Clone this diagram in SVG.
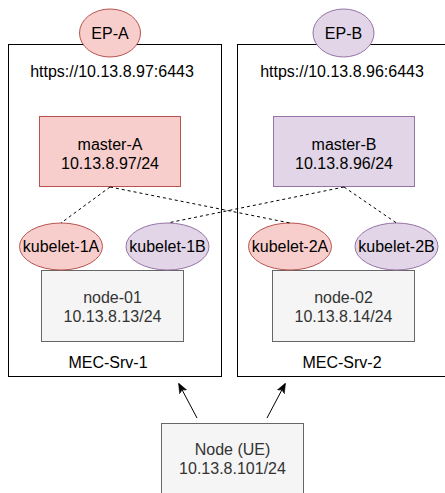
<svg xmlns="http://www.w3.org/2000/svg" width="445" height="493" viewBox="0 0 445 493">
<defs>
<style>
text{font-family:"Liberation Sans",Arial,Helvetica,sans-serif;font-size:16px;fill:#000;text-anchor:middle}
.srv{fill:#fff;stroke:#000;stroke-width:1}
.red{fill:#f8cecc;stroke:#b85450;stroke-width:1}
.pur{fill:#e1d5e7;stroke:#9673a6;stroke-width:1}
.gry{fill:#f5f5f5;stroke:#666;stroke-width:1}
.gt{fill:#333}
.dash{fill:none;stroke:#000;stroke-width:1;stroke-dasharray:3 3}
.arr{fill:none;stroke:#000;stroke-width:1}
</style>
<marker id="ah" viewBox="0 0 10 10" refX="9" refY="5" markerWidth="10" markerHeight="10" markerUnits="userSpaceOnUse" orient="auto">
<path d="M0,1 L10,5 L0,9 L2.5,5 Z" fill="#000" stroke="#000" stroke-width="0.5"/>
</marker>
</defs>
<rect width="445" height="493" fill="#fff"/>
<g id="mec-srv-1">
<rect class="srv" x="8.5" y="44.5" width="213" height="332"/>
<text x="112" y="77">https://10.13.8.97:6443</text>
<text x="108" y="368">MEC-Srv-1</text>
</g>
<g id="mec-srv-2">
<rect class="srv" x="237.5" y="44.5" width="213" height="332"/>
<text x="342" y="77">https://10.13.8.96:6443</text>
<text x="342" y="368">MEC-Srv-2</text>
</g>
<g id="ep-a">
<ellipse class="red" cx="110" cy="33" rx="30.5" ry="24"/>
<text x="110" y="39">EP-A</text>
</g>
<g id="ep-b">
<ellipse class="pur" cx="343.5" cy="33" rx="30.5" ry="24"/>
<text x="343.5" y="39">EP-B</text>
</g>
<g id="master-a">
<rect class="red" x="39.5" y="116.5" width="141" height="70"/>
<text x="110" y="150">master-A</text>
<text x="110" y="169">10.13.8.97/24</text>
</g>
<g id="master-b">
<rect class="pur" x="273.5" y="116.5" width="141" height="70"/>
<text x="344" y="150">master-B</text>
<text x="344" y="169">10.13.8.96/24</text>
</g>
<g id="node-01">
<rect class="gry" x="41.5" y="270.5" width="142" height="71"/>
<text class="gt" x="112.5" y="303">node-01</text>
<text class="gt" x="112.5" y="322">10.13.8.13/24</text>
</g>
<g id="node-02">
<rect class="gry" x="272.5" y="270.5" width="142" height="71"/>
<text class="gt" x="343.5" y="303">node-02</text>
<text class="gt" x="343.5" y="322">10.13.8.14/24</text>
</g>
<g id="kubelet-1a">
<ellipse class="red" cx="61" cy="246.5" rx="41.5" ry="23.5"/>
<text x="61" y="252">kubelet-1A</text>
</g>
<g id="kubelet-1b">
<ellipse class="pur" cx="167.5" cy="246.5" rx="41.5" ry="23.5"/>
<text x="167.5" y="252">kubelet-1B</text>
</g>
<g id="kubelet-2a">
<ellipse class="red" cx="290" cy="246.5" rx="41.5" ry="23.5"/>
<text x="290" y="252">kubelet-2A</text>
</g>
<g id="kubelet-2b">
<ellipse class="pur" cx="396.5" cy="246.5" rx="41.5" ry="23.5"/>
<text x="396.5" y="252">kubelet-2B</text>
</g>
<g id="node-ue">
<rect class="gry" x="161.5" y="423.5" width="142" height="80"/>
<text class="gt" x="232.5" y="455">Node (UE)</text>
<text class="gt" x="232.5" y="474">10.13.8.101/24</text>
</g>
<g id="connectors">
<path class="dash" d="M110,187 L61,223"/>
<path class="dash" d="M110,187 L290,223"/>
<path class="dash" d="M344,187 L167.5,223"/>
<path class="dash" d="M344,187 L396.5,223"/>
<path class="arr" d="M197,418 L179,384" marker-end="url(#ah)"/>
<path class="arr" d="M267,418 L285,384" marker-end="url(#ah)"/>
</g>
</svg>
